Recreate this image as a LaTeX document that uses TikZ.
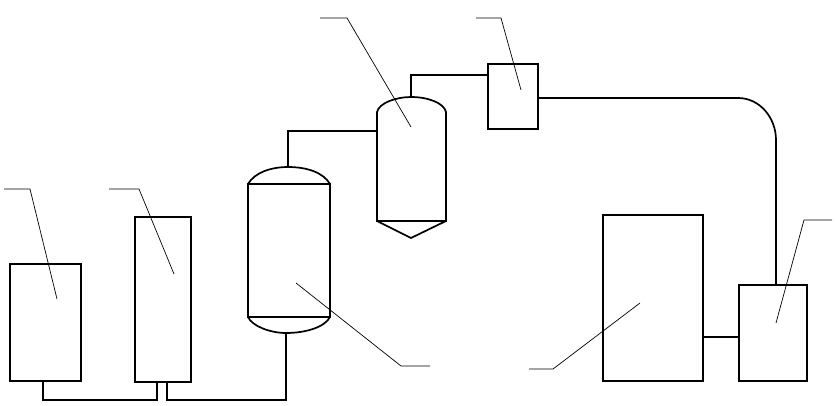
\documentclass[tikz,border=0pt]{standalone}
\tikzset{
  unitbox/.style={draw=black,line width=1.7pt,fill=none,rectangle,inner sep=0pt,outer sep=0pt},
  bodybox/.style={rectangle,inner sep=0pt,outer sep=0pt},
  pipe/.style={draw=black,line width=1.7pt,line join=miter},
  leader/.style={draw=black,line width=0.7pt},
}
\begin{document}
\begin{tikzpicture}[x=1pt,y=-1pt]
\useasboundingbox (0,0) rectangle (836,406);
% boxes (centre, width, height from the reference)
\node[unitbox,minimum width=71pt,minimum height=117pt] (a) at (45.5,322.5) {};
\node[unitbox,minimum width=56pt,minimum height=165pt] (b) at (163,299.5) {};
\node[unitbox,minimum width=82pt,minimum height=133pt] (v1) at (289,250.5) {};
\node[bodybox,minimum width=69pt,minimum height=109pt] (v2) at (411.5,166.5) {};
\node[unitbox,minimum width=50pt,minimum height=65pt] (c) at (513,96.5) {};
\node[unitbox,minimum width=100pt,minimum height=166pt] (d) at (653,298) {};
\node[unitbox,minimum width=68pt,minimum height=96pt] (e) at (773,333) {};
% vessel heads
\draw[pipe] (v1.north west) .. controls (255,172) and (272,167) .. (288,167)
  coordinate (v1top) .. controls (306,167) and (323,172) .. (v1.north east);
\draw[pipe] (v1.south west) .. controls (252,326) and (270,333) .. (286,333)
  coordinate (v1bot) .. controls (306,333) and (325,327) .. (v1.south east);
\draw[pipe] (v2.south west) -- (v2.north west) .. controls (379,103) and (396,97) .. (411,97)
  coordinate (v2top) .. controls (428,97) and (444,103) .. (v2.north east) -- (v2.south east) -- cycle;
\coordinate (v2tip) at (411,238);
\draw[pipe] (v2.south west) -- (v2tip) -- (v2.south east);
% pipes
\coordinate (p1) at (43,400);
\coordinate (p2) at (157,400);
\coordinate (p3) at (167,400);
\coordinate (p4) at (286,400);
\coordinate (p5) at (288,131);
\coordinate (p6) at (411,75);
\draw[pipe] (a.south -| p1) -- (p1) -- (p2) -- (b.south -| p2);
\draw[pipe] (b.south -| p3) -- (p3) -- (p4) -- (v1bot);
\draw[pipe] (v1top) -- (p5) -- (p5 -| v2.west);
\draw[pipe] (v2top) -- (p6) -- (p6 -| c.west);
\coordinate (r1) at (738,98);
\coordinate (r2) at (776,140);
\draw[pipe] (c.east |- r1) -- (r1) .. controls (760,98) and (776,118) .. (r2) -- (r2 |- e.north);
\coordinate (p7) at (720,337);
\draw[pipe] (d.east |- p7) -- (e.west |- p7);
% leaders
\coordinate (l1s) at (4,189);\coordinate (l1m) at (30,189);\coordinate (l1e) at (57,299);
\coordinate (l2s) at (109,189);\coordinate (l2m) at (139,189);\coordinate (l2e) at (174,274);
\coordinate (l3s) at (320,18);\coordinate (l3m) at (347,18);\coordinate (l3e) at (411,127);
\coordinate (l4s) at (476,18);\coordinate (l4m) at (501,18);\coordinate (l4e) at (521,90);
\coordinate (l5s) at (832,220);\coordinate (l5m) at (804,220);\coordinate (l5e) at (776,323);
\coordinate (l6s) at (430,366);\coordinate (l6m) at (401,366);\coordinate (l6e) at (296,283);
\coordinate (l7s) at (529,369);\coordinate (l7m) at (553,369);\coordinate (l7e) at (640,303);
\draw[leader] (l1s) -- (l1m) -- (l1e);
\draw[leader] (l2s) -- (l2m) -- (l2e);
\draw[leader] (l3s) -- (l3m) -- (l3e);
\draw[leader] (l4s) -- (l4m) -- (l4e);
\draw[leader] (l5s) -- (l5m) -- (l5e);
\draw[leader] (l6s) -- (l6m) -- (l6e);
\draw[leader] (l7s) -- (l7m) -- (l7e);
\end{tikzpicture}
\end{document}
